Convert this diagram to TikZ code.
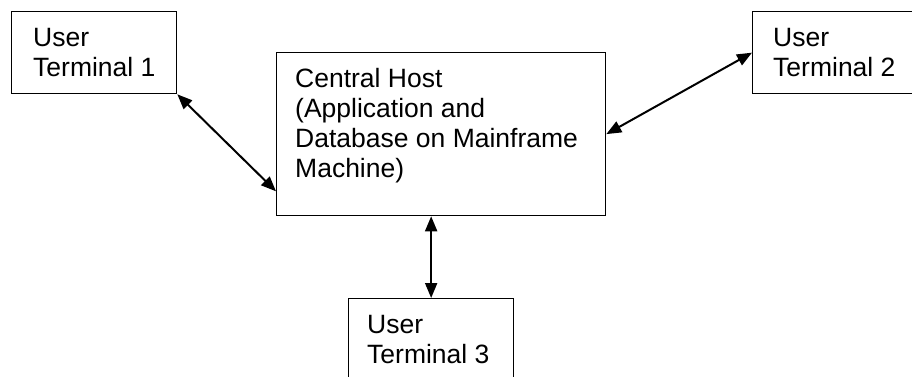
\documentclass[tikz,border=0pt]{standalone}
\usepackage{fontspec}
\setmainfont{Liberation Sans}
\usetikzlibrary{arrows.meta}
\begin{document}
\begin{tikzpicture}[x=1pt,y=-1pt,
  box/.style={draw, line width=1.3pt, inner sep=0pt, anchor=north west},
  lbl/.style={anchor=base west, inner sep=0pt, align=left,
    font=\fontsize{26.5}{30}\selectfont},
  link/.style={line width=2pt, {Triangle[length=15pt,width=12pt]}-{Triangle[length=15pt,width=12pt]}}]
  \useasboundingbox (0,0) rectangle (912,377);
  \begin{scope}
    \clip (0,0) rectangle (912,377);
    % terminals and host
    \node[box, minimum width=165pt, minimum height=82pt] (term1) at (11,11) {};
    \node[box, minimum width=170pt, minimum height=82pt] (term2) at (752,11) {};
    \node[box, minimum width=329pt, minimum height=163pt] (host) at (276,52) {};
    \node[box, minimum width=165pt, minimum height=90pt] (term3) at (348,298) {};
    % labels (anchored on the baseline of their last line)
    \node[lbl] (t1) at (33,77) {User\\Terminal 1};
    \node[lbl] (t2) at (773,77) {User\\Terminal 2};
    \node[lbl] (th) at (295,177) {Central Host\\(Application and\\Database on Mainframe\\Machine)};
    \node[lbl] (t3) at (367,363) {User\\Terminal 3};
    % links
    \draw[link] (term1.south east) -- ([yshift=25pt]host.south west);
    \draw[link] (host.east) -- (term2.west);
    \draw[link] (term3.north |- host.south) -- (term3.north);
  \end{scope}
\end{tikzpicture}
\end{document}
